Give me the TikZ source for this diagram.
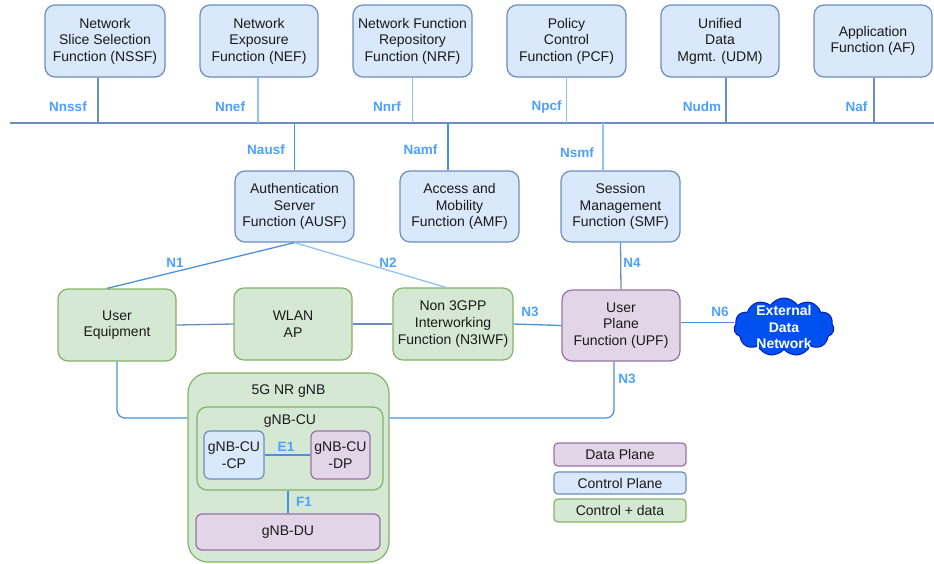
\documentclass[tikz,border=0pt]{standalone}
\usepackage{fontspec}
\setmainfont{Liberation Sans}
\usetikzlibrary{shapes.symbols,calc}

\definecolor{cpfill}{HTML}{DAE8FC}
\definecolor{cpline}{HTML}{6C8EBF}
\definecolor{dpfill}{HTML}{E1D5E7}
\definecolor{dpline}{HTML}{9673A6}
\definecolor{cdfill}{HTML}{D5E8D4}
\definecolor{cdline}{HTML}{82B366}
\definecolor{lblc}{HTML}{4CA0FF}
\definecolor{linkgrey}{HTML}{6C8EBF}
\definecolor{linkbright}{HTML}{4A90E2}
\definecolor{linklight}{HTML}{8EC2F5}
\definecolor{cloudfill}{HTML}{0050EF}
\definecolor{cloudline}{HTML}{001DBC}
\definecolor{txt}{HTML}{1A1A1A}

\tikzset{
  nf/.style={rounded corners=10pt, line width=1.2pt, align=center, text=txt,
    inner sep=0pt, font=\fontsize{14}{16.6}\selectfont},
  ctrl/.style={nf, draw=cpline, fill=cpfill},
  data/.style={nf, draw=dpline, fill=dpfill},
  both/.style={nf, draw=cdline, fill=cdfill},
  lbl/.style={text=lblc, font=\bfseries\fontsize{13.5}{15}\selectfont, inner sep=0pt},
  link/.style={draw=linkgrey, line width=1.3pt},
  brightlink/.style={draw=linkbright, line width=1.3pt},
  lightlink/.style={draw=linklight, line width=1.3pt},
  legend/.style={nf, rounded corners=4pt},
}

\begin{document}
\begin{tikzpicture}[x=1pt, y=-1pt]
\useasboundingbox (0,0) rectangle (934,563);

% Service-based bus
\coordinate (busL) at (10,123);
\coordinate (busR) at (934,123);
\draw[link] (busL) -- (busR);

% Network functions attached to the bus from above
\node[ctrl, minimum width=120pt, minimum height=72pt] (nssf) at (105,41) {Network\\Slice Selection\\Function (NSSF)};
\node[ctrl, minimum width=118pt, minimum height=72pt] (nef) at (259,41) {Network\\Exposure\\Function (NEF)};
\node[ctrl, minimum width=119pt, minimum height=72pt] (nrf) at (412.5,41) {Network Function\\Repository\\Function (NRF)};
\node[ctrl, minimum width=119pt, minimum height=72pt] (pcf) at (566.5,41) {Policy\\Control\\Function (PCF)};
\node[ctrl, minimum width=118pt, minimum height=72pt] (udm) at (720,41) {Unified\\Data\\Mgmt. (UDM)};
\node[ctrl, minimum width=118pt, minimum height=72pt] (af) at (873,41) {Application\\Function (AF)};

\draw[link] ([xshift=-7pt]nssf.south) -- ([xshift=-7pt]nssf.south |- busL);
\draw[lightlink] ([xshift=-1pt]nef.south) -- ([xshift=-1pt]nef.south |- busL);
\draw[lightlink] (nrf.south) -- (nrf.south |- busL);
\draw[lightlink] (pcf.south) -- (pcf.south |- busL);
\draw[link] ([xshift=6pt]udm.south) -- ([xshift=6pt]udm.south |- busL);
\draw[link] ([xshift=1pt]af.south) -- ([xshift=1pt]af.south |- busL);

\node[lbl] at (68,107) {Nnssf};
\node[lbl] at (230,107) {Nnef};
\node[lbl] at (387,107) {Nnrf};
\node[lbl] at (546.5,107) {Npcf};
\node[lbl] at (702,107) {Nudm};
\node[lbl] at (856.5,107) {Naf};

% Network functions attached to the bus from below
\node[ctrl, minimum width=119pt, minimum height=71pt] (ausf) at (294.5,206.5) {Authentication\\Server\\Function (AUSF)};
\node[ctrl, minimum width=119pt, minimum height=71pt] (amf) at (459.5,206.5) {Access and\\Mobility\\Function (AMF)};
\node[ctrl, minimum width=119pt, minimum height=71pt] (smf) at (620.5,206.5) {Session\\Management\\Function (SMF)};

\draw[brightlink] (ausf.north) -- (ausf.north |- busL);
\draw[brightlink] ([xshift=-11.5pt]amf.north) -- ([xshift=-11.5pt]amf.north |- busL);
\draw[lightlink] ([xshift=-17.5pt]smf.north) -- ([xshift=-17.5pt]smf.north |- busL);

\node[lbl] at (266,150) {Nausf};
\node[lbl] at (420.5,150) {Namf};
\node[lbl] at (577,153) {Nsmf};

% Access side
\node[both, minimum width=118pt, minimum height=72pt] (ue) at (117,325) {User\\Equipment};
\node[both, minimum width=118pt, minimum height=72pt] (wlan) at (293,324) {WLAN\\AP};
\node[both, minimum width=120pt, minimum height=72pt] (n3iwf) at (453,324) {Non 3GPP\\Interworking\\Function (N3IWF)};
\node[data, minimum width=118pt, minimum height=71pt] (upf) at (621,325.5) {User\\Plane\\Function (UPF)};

\node[cloud, cloud puffs=11, cloud puff arc=115, aspect=1.7, draw=cloudline, fill=cloudfill,
      line width=1pt, minimum width=100pt, minimum height=58pt, inner sep=0pt] (edn) at (784,327) {};
\node[text=white, align=center, font=\bfseries\fontsize{14}{16.6}\selectfont, inner sep=0pt] (ednlabel) at (edn.center) {External\\Data\\Network};

\draw[brightlink] ([xshift=-10pt]ue.north) -- (ausf.south);
\draw[lightlink] (ausf.south) -- ([xshift=-7pt]n3iwf.north);
\node[lbl] at (175,263) {N1};
\node[lbl] at (388,263) {N2};

\draw[link] (ue.east) -- (wlan.west);
\draw[link] (wlan.east) -- (n3iwf.west);
\draw[brightlink] (n3iwf.east) -- (upf.west);
\node[lbl] at (530,312) {N3};

\draw[link] (smf.south) -- (upf.north);
\node[lbl] at (632,263) {N4};

\draw[brightlink] ([yshift=3pt]upf.east) -- ([yshift=3pt]upf.east -| edn.west);
\node[lbl] at (720,312) {N6};

% 5G NR base station
\node[both, rounded corners=20pt, minimum width=201pt, minimum height=189pt] (gnb) at (288.5,467.5) {};
\node[nf, anchor=north] (gnbtitle) at ([yshift=-12pt]gnb.north) {5G NR gNB};
\node[both, minimum width=186pt, minimum height=83pt] (cu) at (290,448.5) {};
\node[nf, anchor=north] (cutitle) at ([yshift=-8pt]cu.north) {gNB-CU};
\node[ctrl, rounded corners=6pt, minimum width=60pt, minimum height=48pt] (cucp) at (234,455) {gNB-CU\\-CP};
\node[data, rounded corners=6pt, minimum width=59pt, minimum height=48pt] (cudp) at (340.5,455) {gNB-CU\\-DP};
\node[data, rounded corners=6pt, minimum width=184pt, minimum height=36pt] (du) at (288,532) {gNB-DU};

\draw[brightlink] (cucp.east) -- (cudp.west);
\node[lbl] at (286,447) {E1};
\draw[brightlink] ([xshift=-2pt]cu.south) -- ([xshift=-2pt]cu.south |- du.north);
\node[lbl] at (304,502) {F1};

% N3 path from UE and UPF to the gNB
\coordinate (ranrow) at (288,418);
\draw[brightlink, rounded corners=8pt] (ue.south) |- (ranrow -| gnb.west);
\draw[brightlink, rounded corners=8pt] ([xshift=-7pt]upf.south) |- (ranrow -| gnb.east);
\node[lbl] at (627,379) {N3};

% Legend
\node[legend, draw=dpline, fill=dpfill, minimum width=132pt, minimum height=23pt] (legdp) at (620,454.5) {Data Plane};
\node[legend, draw=cpline, fill=cpfill, minimum width=132pt, minimum height=22pt] (legcp) at (620,483) {Control Plane};
\node[legend, draw=cdline, fill=cdfill, minimum width=132pt, minimum height=23pt] (legcd) at (620,510.5) {Control + data};
\end{tikzpicture}
\end{document}
